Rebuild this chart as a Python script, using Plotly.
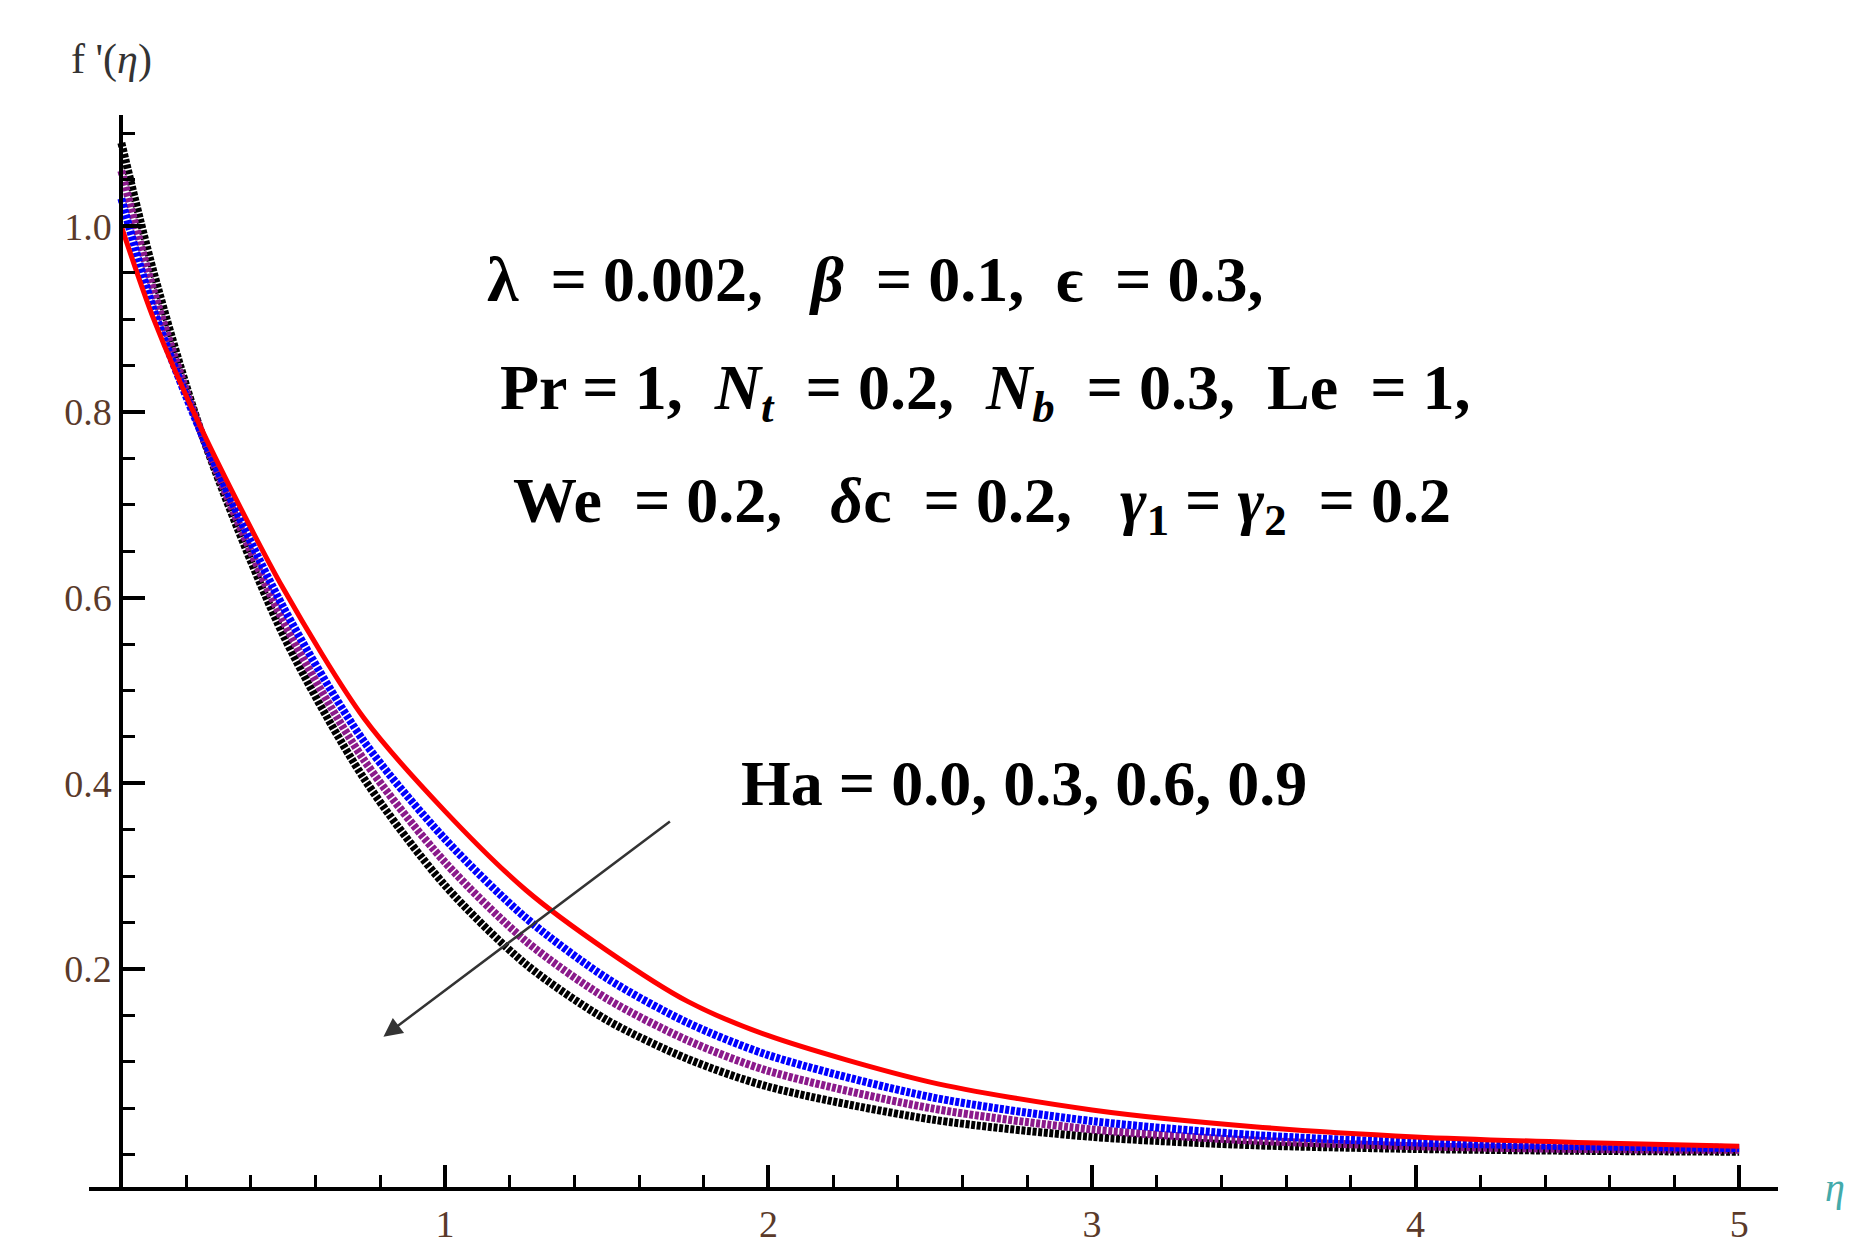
import plotly.graph_objects as go

eta = [0, 0.1, 0.25, 0.5, 0.75, 1.0, 1.25, 1.5, 1.75, 2.0, 2.5, 3.0, 3.5, 4.0, 4.5, 5.0]
f_ha00 = [1.00, 0.90, 0.78, 0.61, 0.47, 0.37, 0.285, 0.22, 0.165, 0.128, 0.078, 0.048, 0.030, 0.019, 0.013, 0.009]
f_ha03 = [1.03, 0.91, 0.775, 0.59, 0.445, 0.34, 0.255, 0.19, 0.142, 0.107, 0.062, 0.036, 0.021, 0.013, 0.009, 0.007]
f_ha06 = [1.06, 0.93, 0.775, 0.575, 0.425, 0.315, 0.23, 0.168, 0.123, 0.090, 0.050, 0.027, 0.015, 0.009, 0.006, 0.005]
f_ha09 = [1.09, 0.95, 0.775, 0.56, 0.405, 0.29, 0.205, 0.145, 0.103, 0.073, 0.038, 0.019, 0.010, 0.006, 0.004, 0.003]

fig = go.Figure()
for y, c in [(f_ha09, "black"), (f_ha06, "#8B1A8B"), (f_ha03, "blue")]:
    fig.add_trace(go.Scatter(x=eta, y=y, mode="lines", line=dict(color=c, width=8, dash="4px,1.6px", shape="spline", smoothing=0.8), showlegend=False))
fig.add_trace(go.Scatter(x=eta, y=f_ha00, mode="lines", line=dict(color="red", width=5, shape="spline", smoothing=0.8), showlegend=False))

tf = dict(family="Liberation Serif", size=38, color="#5a3a2a")
fig.update_layout(
    width=1858, height=1258, plot_bgcolor="white", paper_bgcolor="white",
    margin=dict(l=81, r=88, t=107, b=79),
    xaxis=dict(range=[-0.10, 5.12], tickvals=[1, 2, 3, 4, 5], showline=True, linecolor="black", linewidth=4,
               ticks="inside", ticklen=22, tickwidth=4, tickcolor="black", tickfont=tf, showgrid=False, zeroline=False,
               minor=dict(dtick=0.2, tick0=0, ticks="inside", ticklen=12, tickwidth=3, tickcolor="black")),
    yaxis=dict(range=[-0.035, 1.12], tickvals=[0.2, 0.4, 0.6, 0.8, 1.0], ticktext=["0.2", "0.4", "0.6", "0.8", "1.0"],
               anchor="free", position=0.10 / 5.22, showline=True, linecolor="black", linewidth=4,
               ticks="inside", ticklen=22, tickwidth=4, tickcolor="black", tickfont=tf, showgrid=False, zeroline=False,
               minor=dict(dtick=0.05, tick0=0, ticks="inside", ticklen=12, tickwidth=3, tickcolor="black")),
)
bf = dict(family="Liberation Serif", size=64, color="black")
S = "&nbsp;"
lines = [
    (f"<b>λ {S}= 0.002, {S}{S}<i>β</i> {S}= 0.1, {S}ϵ {S}= 0.3,</b>", 2.33, 0.943),
    (f"<b>Pr = 1, {S}<i>N<sub>t</sub></i> {S}= 0.2, {S}<i>N<sub>b</sub></i> {S}= 0.3, {S}Le {S}= 1,</b>", 2.67, 0.822),
    (f"<b>We {S}= 0.2, {S}{S}<i>δ</i>c {S}= 0.2, {S}{S}<i>γ</i><sub>1</sub> = <i>γ</i><sub>2</sub> {S}= 0.2</b>", 2.66, 0.70),
]
for t, xx, yy in lines:
    fig.add_annotation(x=xx, y=yy, xref="x", yref="y", text=t, showarrow=False, font=bf)
fig.add_annotation(x=2.79, y=0.40, xref="x", yref="y", text="<b>Ha = 0.0, 0.3, 0.6, 0.9</b>", showarrow=False, font=bf)
fig.add_annotation(x=0.81, y=0.127, ax=1.70, ay=0.36, xref="x", yref="y", axref="x", ayref="y", text="",
                   showarrow=True, arrowhead=2, arrowsize=1.5, arrowwidth=2.5, arrowcolor="#333")
fig.add_annotation(xref="paper", yref="paper", x=0.0, y=1.0, xanchor="left", yanchor="bottom", yshift=30, xshift=-20,
                   text="f '(<i>η</i>)", showarrow=False, font=dict(family="Liberation Serif", size=42, color="#333"))
fig.add_annotation(xref="paper", yref="paper", x=1.0, y=0.0, xanchor="left", yanchor="middle", xshift=45, text="<i>η</i>",
                   showarrow=False, font=dict(family="Liberation Serif", size=40, color="#4aa"))
fig.write_html("out.html")
